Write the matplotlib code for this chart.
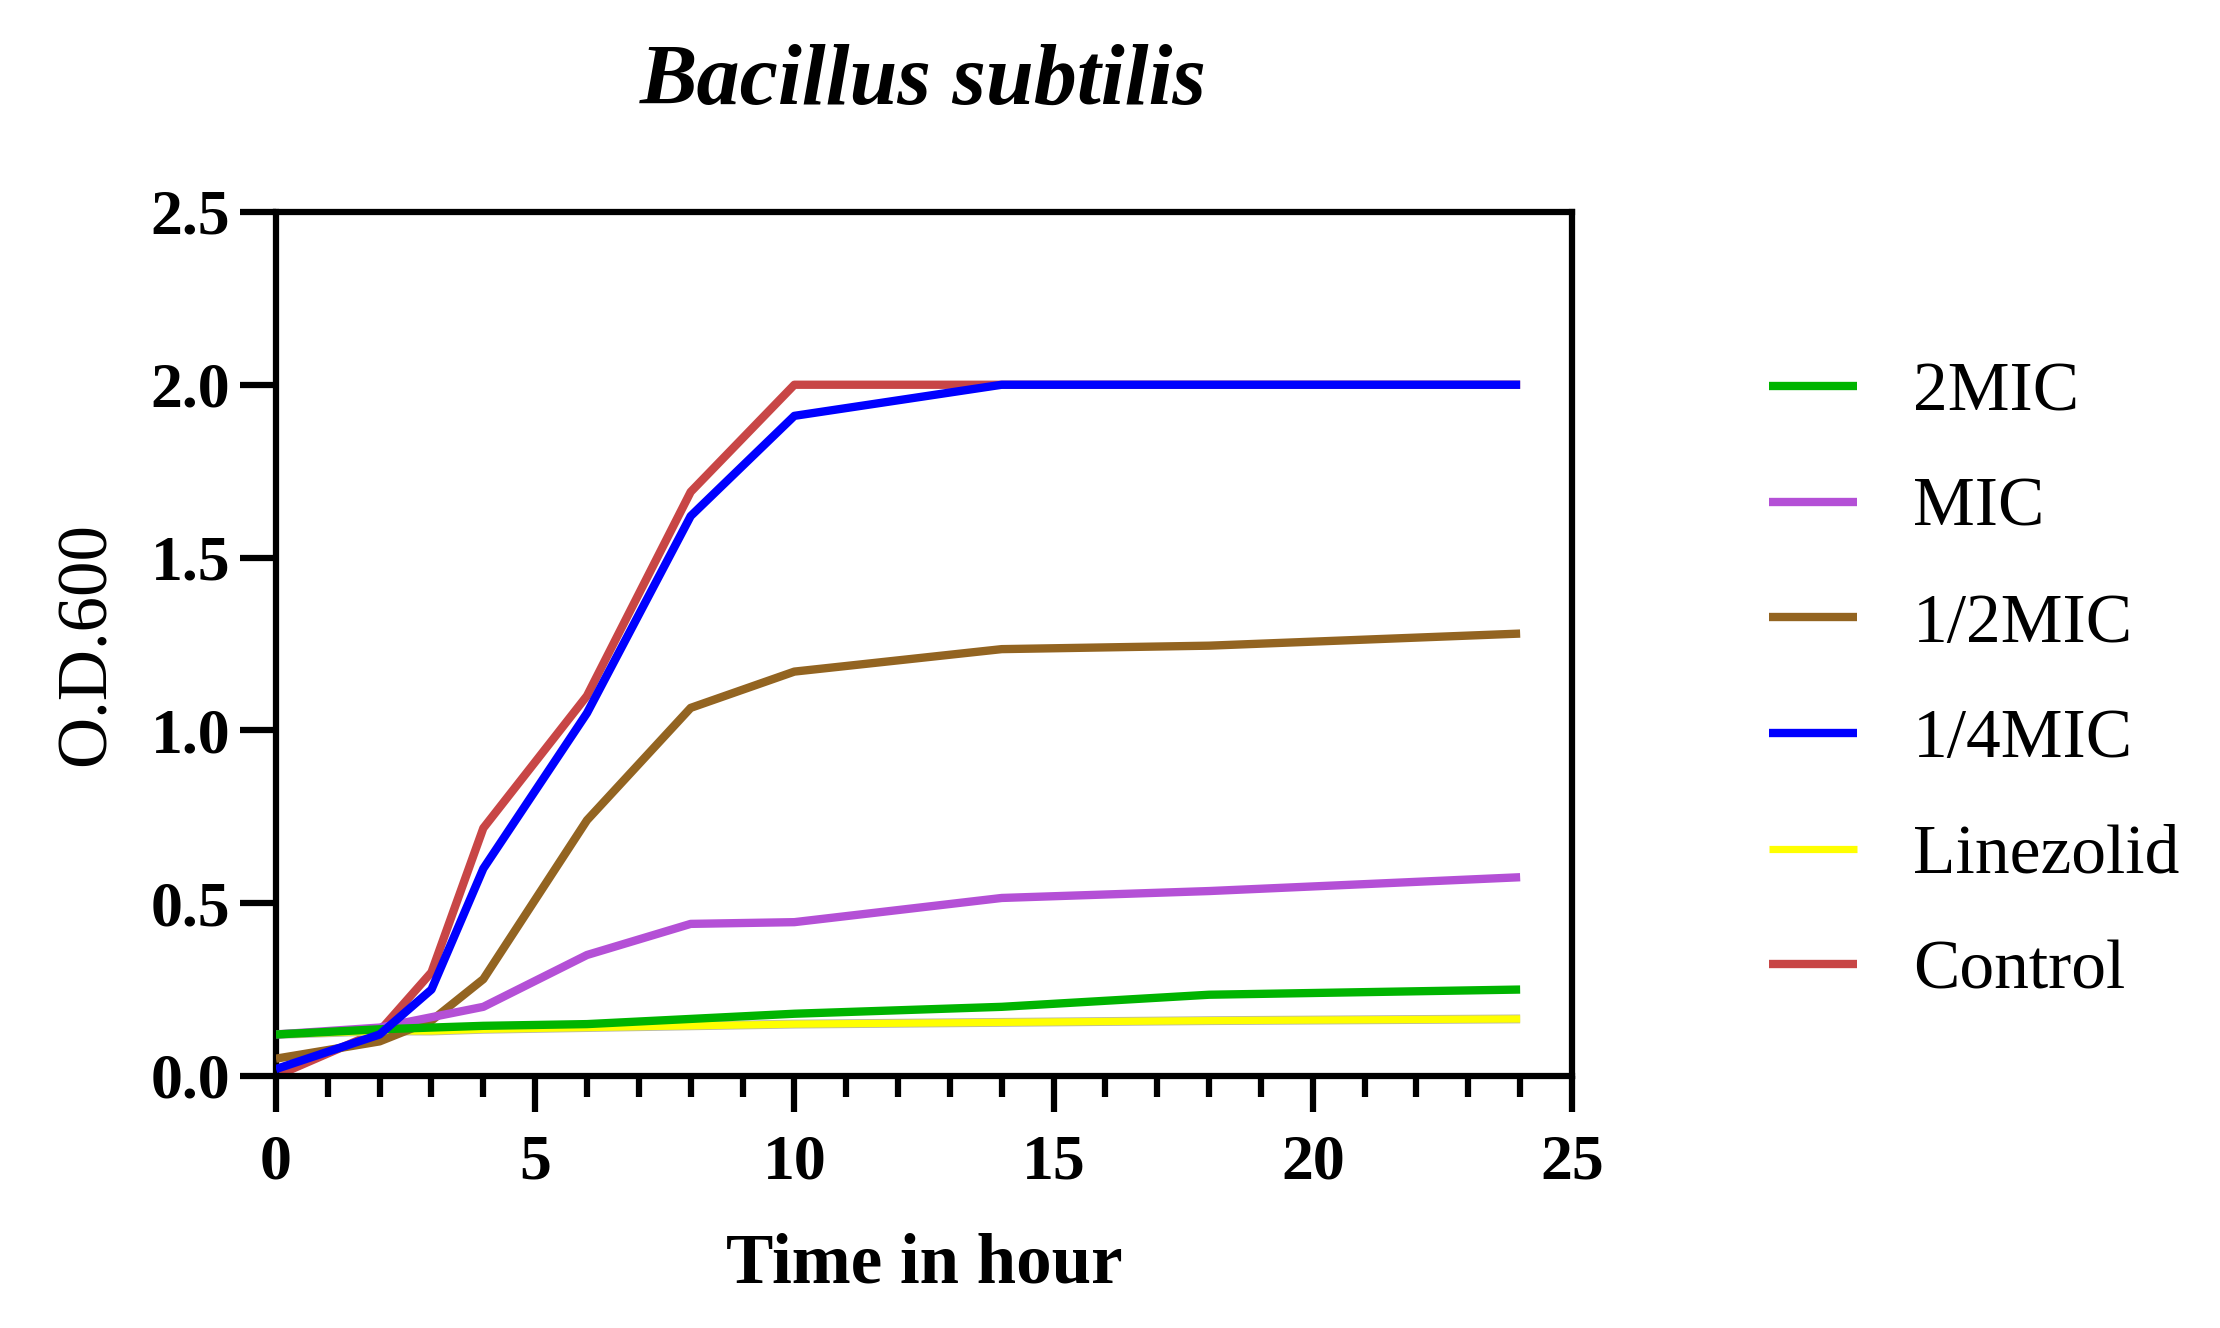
import matplotlib
matplotlib.use("Agg")
import matplotlib.pyplot as plt
from matplotlib.ticker import MultipleLocator, FormatStrFormatter

# time points (h) and O.D.600 readings
hours = [0, 2, 3, 4, 6, 8, 10, 14, 18, 24]
mic2 = [0.12, 0.135, 0.14, 0.145, 0.15, 0.165, 0.18, 0.20, 0.235, 0.25]
mic1 = [0.12, 0.14, 0.17, 0.20, 0.35, 0.44, 0.445, 0.515, 0.535, 0.575]
mic_half = [0.05, 0.10, 0.16, 0.28, 0.74, 1.065, 1.17, 1.235, 1.245, 1.28]
mic_quarter = [0.02, 0.12, 0.25, 0.60, 1.05, 1.62, 1.91, 2.0, 2.0, 2.0]
linezolid = [0.12, 0.13, 0.13, 0.135, 0.14, 0.145, 0.15, 0.155, 0.16, 0.165]
control = [0.0, 0.13, 0.30, 0.717, 1.10, 1.69, 2.0, 2.0, 2.0, 2.0]

labels = ['2MIC', 'MIC', '1/2MIC', '1/4MIC', 'Linezolid', 'Control']
colors = ['#00b400', '#b450d6', '#936421', '#0000ff', '#ffff00', '#c84646']

plt.rcParams['font.family'] = ['Liberation Serif', 'DejaVu Serif']

fig = plt.figure(figsize=(22.2, 13.28), dpi=100)
ax = fig.add_axes([0.1243, 0.1898, 0.5838, 0.6506])

series = [mic2, mic1, mic_half, mic_quarter, linezolid, control]
zorders = [5, 4, 3, 6, 2, 1]
for ys, lab, c, z in zip(series, labels, colors, zorders):
    if lab == 'Linezolid':
        # yellow line has a faint grey rim in the original
        ax.plot(hours, ys, color='#b8b8a8', lw=6.4, zorder=z, solid_capstyle='butt')
        ax.plot(hours, ys, color=c, lw=5.2, zorder=z, label=lab, solid_capstyle='butt')
    else:
        ax.plot(hours, ys, color=c, lw=6, zorder=z, label=lab, solid_capstyle='butt')

ax.set_xlim(0, 25)
ax.set_ylim(0, 2.5)
ax.xaxis.set_major_locator(MultipleLocator(5))
ax.xaxis.set_minor_locator(MultipleLocator(1))
ax.yaxis.set_major_locator(MultipleLocator(0.5))
ax.yaxis.set_major_formatter(FormatStrFormatter('%.1f'))

for s in ax.spines.values():
    s.set_linewidth(4.5)
ax.tick_params(axis='both', which='major', width=4.5, length=26, direction='out',
               labelsize=46)
ax.tick_params(axis='y', which='major', pad=7)
ax.tick_params(axis='x', which='major', pad=16)
ax.tick_params(axis='x', which='minor', width=4.5, length=15, direction='out')
for t in ax.get_xticklabels() + ax.get_yticklabels():
    t.set_fontweight('bold')

ax.set_xlabel('Time in hour', fontsize=51, fontweight='bold', labelpad=29)
ax.set_ylabel('O.D.600', fontsize=51, labelpad=22)
fig.text(0.416, 0.937, 'Bacillus subtilis', fontsize=62, fontweight='bold',
         fontstyle='italic', ha='center', va='center')

handles, labs = ax.get_legend_handles_labels()
order = [labs.index(l) for l in labels]
fig.legend([handles[i] for i in order], [labs[i] for i in order],
           loc='center left', bbox_to_anchor=(0.781, 0.486), frameon=False,
           fontsize=50, handlelength=1.28, handletextpad=0.8,
           labelspacing=0.75, borderpad=0)

fig.savefig('out.png', dpi=100)
